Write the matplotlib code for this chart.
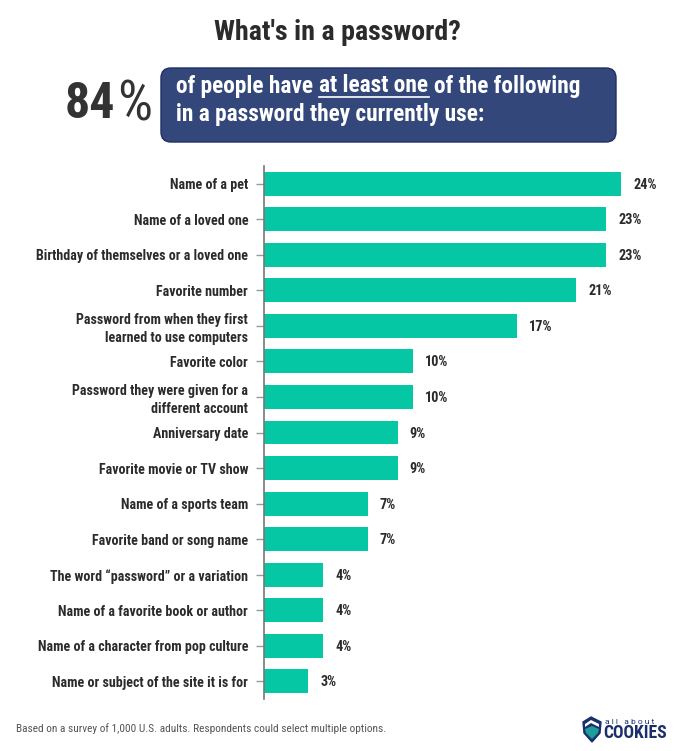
import matplotlib
matplotlib.use("Agg")
import matplotlib.pyplot as plt
from matplotlib.patches import FancyBboxPatch, Polygon

W, H = 680, 751

# ---------------------------
# Data
# ---------------------------

categories = [
    "Name of a pet",
    "Name of a loved one",
    "Birthday of themselves or a loved one",
    "Favorite number",
    "Password from when they first\nlearned to use computers",
    "Favorite color",
    "Password they were given for a\ndifferent account",
    "Anniversary date",
    "Favorite movie or TV show",
    "Name of a sports team",
    "Favorite band or song name",
    "The word \u201cpassword\u201d or a variation",
    "Name of a favorite book or author",
    "Name of a character from pop culture",
    "Name or subject of the site it is for",
]
values = [24, 23, 23, 21, 17, 10, 10, 9, 9, 7, 7, 4, 4, 4, 3]

title = "What's in a password?"
footnote = "Based on a survey of 1,000 U.S. adults. Respondents could select multiple options."

BAR = "#06c7a3"
NAVY = "#33477a"
DARK = "#2b2b2b"

plt.rcParams["font.family"] = ["Roboto Condensed", "Roboto", "DejaVu Sans"]

fig = plt.figure(figsize=(W / 100, H / 100), dpi=100, facecolor="white")

# ---------------------------
# Overlay in pixel coordinates
# ---------------------------

bg = fig.add_axes([0, 0, 1, 1])
bg.set_xlim(0, W)
bg.set_ylim(H, 0)
bg.axis("off")

bg.text(337, 32, title, ha="center", va="center", fontsize=20.2, fontweight="bold", color=DARK)
bg.text(65, 105, "84", ha="left", va="center", fontsize=36, fontweight="bold", color="#333333")
bg.text(152, 105, "%", ha="right", va="center", fontsize=40, color="#333333")

bg.add_patch(FancyBboxPatch((167, 74), 443, 62, boxstyle="round,pad=6,rounding_size=10",
                            fc=NAVY, ec="#1f2f66", lw=1))

head = dict(va="center", fontsize=16.8, fontweight="bold", color="white")
bg.text(176, 86, "of people have", ha="left", **head)
bg.text(319, 86, "at least one", ha="left", **head)
bg.text(434, 86, "of the following", ha="left", **head)
bg.text(176, 114, "in a password they currently use:", ha="left", **head)
bg.plot([319, 429], [96.5, 96.5], color="white", lw=1.2)

bg.text(16, 729, footnote, ha="left", va="center", fontsize=8.2, color="#555555")

# logo
bg.add_patch(Polygon([(583, 722), (591, 717), (601, 722), (600, 733), (592, 742), (584, 733)],
                     closed=True, fc="#1b2f6b", ec="#1b2f6b", lw=1))
bg.add_patch(Polygon([(585, 729), (592, 726), (599, 729), (598, 733), (592, 739), (586, 733)],
                     closed=True, fc="#1f9d9a", ec="none"))
bg.add_patch(Polygon([(585, 724), (591, 720), (599, 724), (599, 727), (591, 723), (585, 727)],
                     closed=True, fc="white", ec="none"))
bg.text(605, 721.5, "a l l   a b o u t", ha="left", va="center", fontsize=6, family="Roboto", color="#1b2f6b")
bg.text(603.5, 733.5, "COOKIES", ha="left", va="center", fontsize=12.7, fontweight="bold", color="#1b2f6b")

# ---------------------------
# Bars
# ---------------------------

left, right = 263.5, W
top, bottom = 166, 699
ax = fig.add_axes([left / W, 1 - bottom / H, (right - left) / W, (bottom - top) / H])
ax.patch.set_alpha(0)

positions = list(range(len(categories)))
ax.barh(positions, values, height=0.675, color=BAR, zorder=2)
ax.set_xlim(0, (right - left) / 14.9)
ax.set_ylim(len(categories) - 0.5, -0.5)

ax.set_yticks(positions)
ax.set_yticklabels(categories, fontsize=10.1, fontweight="bold", color=DARK, linespacing=1.35, ha="right")
ax.tick_params(axis="y", length=6, width=1, color="#999999", pad=5)
ax.set_xticks([])

for s in ["top", "right", "bottom"]:
    ax.spines[s].set_visible(False)
ax.spines["left"].set_color("#777777")
ax.spines["left"].set_linewidth(1.2)
ax.spines["left"].set_zorder(3)

for y, v in zip(positions, values):
    ax.annotate(f"{v}%", (v, y), xytext=(12, -1), textcoords="offset pixels",
                va="center", ha="left", fontsize=10.3, fontweight="bold", color=DARK)

fig.savefig("out.png", dpi=100)
